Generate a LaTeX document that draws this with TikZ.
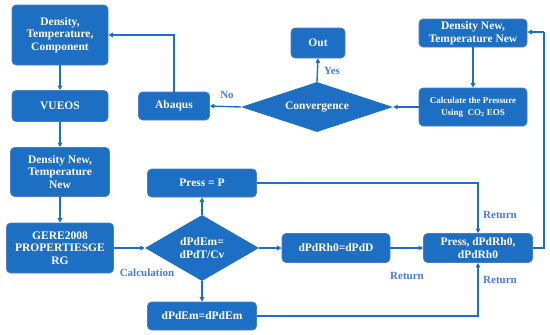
\documentclass[tikz,border=0pt]{standalone}
\usepackage{fontspec}
\setmainfont{Liberation Serif}
\usetikzlibrary{shapes.geometric,arrows.meta}
\definecolor{boxblue}{HTML}{1D6FC4}
\definecolor{edgeblue}{HTML}{4A7FBF}
\definecolor{lblblue}{HTML}{4A7BE0}
\tikzset{
  box/.style={draw=edgeblue, line width=0.6pt, fill=boxblue, rounded corners=4pt, text=white,
    font=\fontsize{11.5}{12.5}\selectfont\bfseries, align=center, inner sep=1pt},
  dia/.style={diamond, fill=boxblue, draw=none, text=white, aspect=2,
    font=\fontsize{11.5}{13}\selectfont\bfseries, align=center, inner sep=0pt},
  conn/.style={draw=boxblue, line width=1.4pt, -{Triangle[length=4.5pt,width=4.5pt]}},
  line/.style={draw=boxblue, line width=1.4pt},
  lbl/.style={text=lblblue, font=\fontsize{11}{12}\selectfont\bfseries, inner sep=0pt}
}
\begin{document}
\begin{tikzpicture}[x=1pt,y=-1pt]
\useasboundingbox (0,0) rectangle (550,335);
% boxes
\node[box, minimum width=96pt, minimum height=60pt] (dtc) at (60,35) {Density,\\Temperature,\\Component};
\node[box, minimum width=96pt, minimum height=31pt] (vueos) at (60,106) {VUEOS};
\node[box, minimum width=99pt, minimum height=49pt] (dnl) at (60,172) {Density New,\\Temperature\\New};
\node[box, minimum width=107pt, minimum height=50pt] (gere) at (60,248) {GERE2008\\PROPERTIESGE\\RG};
\node[box, minimum width=71pt, minimum height=28pt] (abaqus) at (174,106) {Abaqus};
\node[dia, minimum width=152pt, minimum height=50pt] (conv) at (317,107) {Convergence};
\node[box, minimum width=54pt, minimum height=30pt] (out) at (318,43) {Out};
\node[box, minimum width=108pt, minimum height=28pt, font=\fontsize{11.5}{12.5}\selectfont\bfseries] (dnr) at (473,33) {Density New,\\Temperature New};
\node[box, minimum width=108pt, minimum height=38pt, font=\fontsize{9}{12}\selectfont\bfseries] (calc) at (473,107) {Calculate the Pressure\\Using\ \ CO\textsubscript{2} EOS};
\node[dia, minimum width=114pt, minimum height=66pt] (dpde) at (202,248) {dPdEm=\\dPdT/Cv};
\node[box, minimum width=109pt, minimum height=28pt] (pressp) at (202,183) {Press = P};
\node[box, minimum width=109pt, minimum height=28pt] (dpdem) at (202,316) {dPdEm=dPdEm};
\node[box, minimum width=108pt, minimum height=29pt] (dpdrh) at (336,248) {dPdRh0=dPdD};
\node[box, minimum width=109pt, minimum height=29pt] (press) at (478,248) {Press, dPdRh0,\\dPdRh0};
\coordinate (rc) at (544,248);
\coordinate (rt) at (544,32);
% connectors
\draw[conn] (dtc) -- (vueos);
\draw[conn] (vueos) -- (dnl);
\draw[conn] (dnl) -- (gere);
\draw[conn] (gere.east) -- (dpde.west);
\draw[conn] (dpde.north) -- (pressp.south);
\draw[conn] (dpde.south) -- (dpdem.north);
\draw[conn] (dpde.east) -- (dpdrh.west);
\draw[conn] (dpdrh.east) -- (press.west);
\draw[conn] (pressp.east) -| (press.north);
\draw[conn] (dpdem.east) -| (press.south);
\draw[line] (press.east) -- (rc) -- (rt);
\draw[conn] (rt) -- (dnr.east |- rt);
\draw[conn] (dnr) -- (calc);
\draw[conn] (calc.west) -- (conv.east);
\draw[conn] (conv.north) -- (out.south);
\draw[conn] (conv.west) -- (abaqus.east);
\draw[conn] (abaqus.north) |- (dtc.east);
% labels
\node[lbl] (lno) at (227,95) {No};
\node[lbl] (lyes) at (332,71) {Yes};
\node[lbl] (lcalc) at (147,273) {Calculation};
\node[lbl] (lr1) at (500,215) {Return};
\node[lbl] (lr2) at (407,276) {Return};
\node[lbl] (lr3) at (500,280) {Return};
\end{tikzpicture}
\end{document}
